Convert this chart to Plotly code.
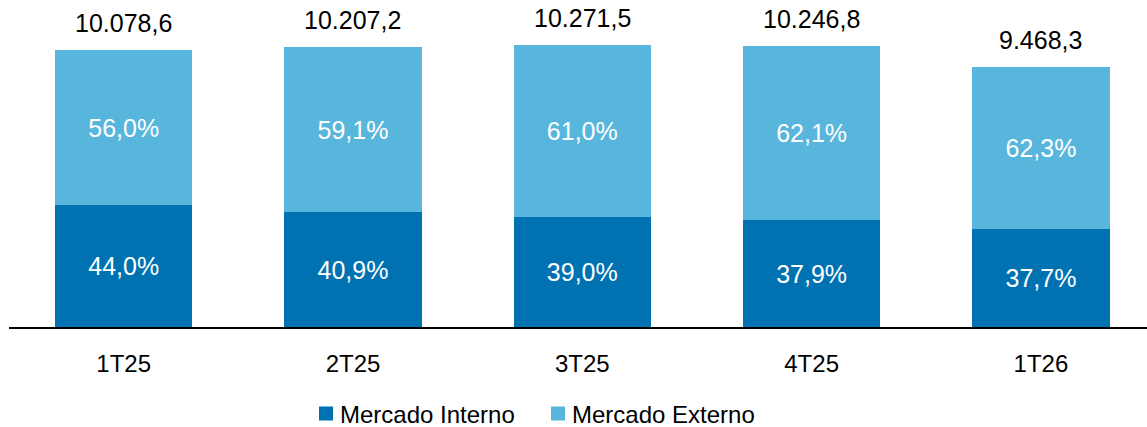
import plotly.graph_objects as go

categories = ["1T25", "2T25", "3T25", "4T25", "1T26"]
totals = [10078.6, 10207.2, 10271.5, 10246.8, 9468.3]
interno_pct = [44.0, 40.9, 39.0, 37.9, 37.7]
externo_pct = [56.0, 59.1, 61.0, 62.1, 62.3]
series_names = ["Mercado Interno", "Mercado Externo"]

DARK = "#0072B1"
LIGHT = "#58B6DD"
FONT = "Liberation Sans, Arial, sans-serif"

W, H = 1147, 427
ML, MR, MT, MB = 9, 0, 0, 100
PW, PH = W - ML - MR, H - MT - MB


def br(v, d=1):
    s = f"{v:,.{d}f}"
    return s.replace(",", "X").replace(".", ",").replace("X", ".")


def px2paper(x, y):
    return (x - ML) / PW, (H - MB - y) / PH


interno_vals = [t * p / 100 for t, p in zip(totals, interno_pct)]
externo_vals = [t * p / 100 for t, p in zip(totals, externo_pct)]

fig = go.Figure()
for name, vals, pcts, col in [(series_names[0], interno_vals, interno_pct, DARK),
                              (series_names[1], externo_vals, externo_pct, LIGHT)]:
    fig.add_trace(go.Bar(
        x=categories, y=vals, name=name,
        marker=dict(color=col, line=dict(width=0)),
        text=[br(p) + "%" for p in pcts], textposition="inside",
        insidetextanchor="middle", textangle=0, constraintext="none",
        textfont=dict(color="white", size=25, family=FONT),
        hoverinfo="skip", showlegend=False,
    ))

for c, t in zip(categories, totals):
    fig.add_annotation(x=c, y=t, text=br(t), showarrow=False,
                       yanchor="bottom", yshift=11,
                       font=dict(size=25, color="black", family=FONT))

# manual legend (square + label)
legend_items = [(series_names[0], DARK, 319, 339), (series_names[1], LIGHT, 551, 571)]
for name, col, sq_x, tx_x in legend_items:
    x0, y0 = px2paper(sq_x, 420.5)
    x1, y1 = px2paper(sq_x + 14, 406.5)
    fig.add_shape(type="rect", xref="paper", yref="paper", x0=x0, x1=x1, y0=y0, y1=y1,
                  fillcolor=col, line=dict(width=0))
    tx, ty = px2paper(tx_x, 414)
    fig.add_annotation(xref="paper", yref="paper", x=tx, y=ty, text=name, showarrow=False,
                       xanchor="left", yanchor="middle", xshift=-1,
                       font=dict(size=24, color="black", family=FONT))

fig.update_layout(
    width=W, height=H,
    barmode="stack", bargap=0.4,
    margin=dict(l=ML, r=MR, t=MT, b=MB),
    plot_bgcolor="white", paper_bgcolor="white",
    font=dict(family=FONT, color="black"),
    showlegend=False,
    xaxis=dict(range=[-0.5, 4.4625], showline=True, linecolor="black", linewidth=2,
               showgrid=False, zeroline=False, ticks="", ticklabelstandoff=14,
               tickfont=dict(size=24, family=FONT, color="black")),
    yaxis=dict(range=[0, 11913], visible=False, showgrid=False, zeroline=False),
)

fig.write_html("out.html", config={"displayModeBar": False},
               post_script="document.body.style.margin='0';")
